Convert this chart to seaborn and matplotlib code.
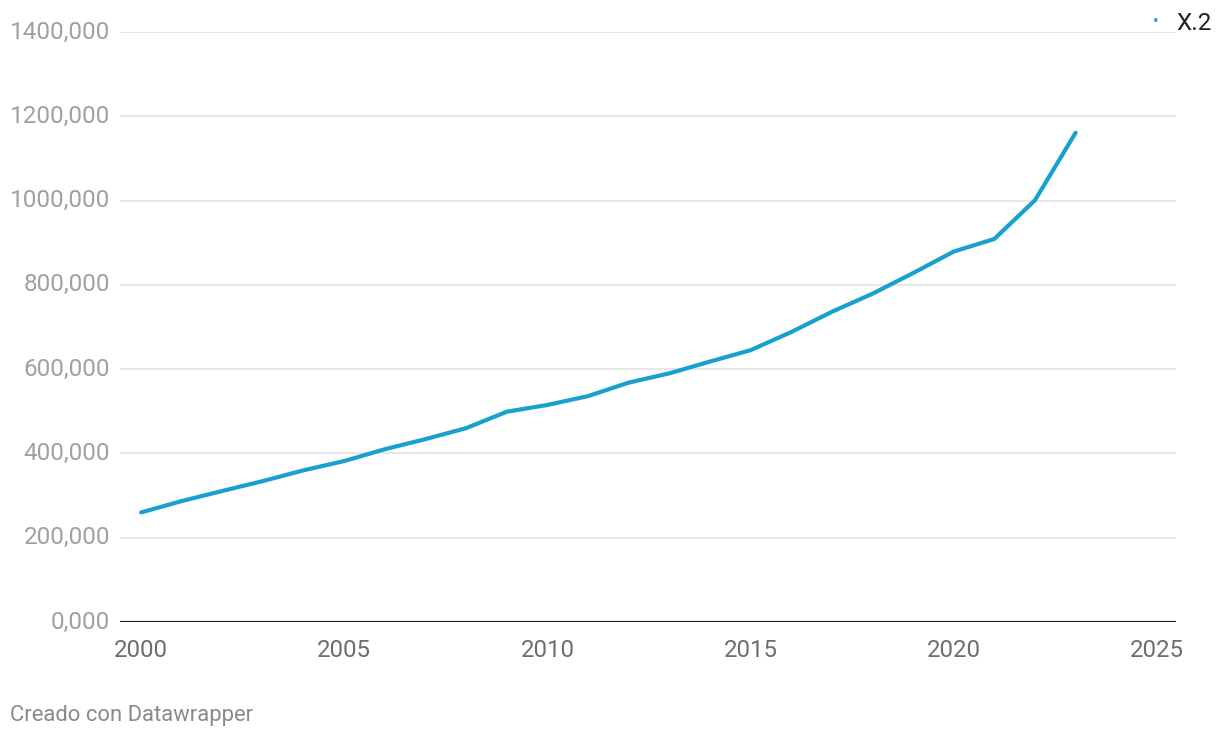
import matplotlib
matplotlib.use("Agg")
import matplotlib.pyplot as plt
import seaborn as sns
import pandas as pd
from matplotlib.ticker import FuncFormatter, FixedLocator

years = list(range(2000, 2024))
values = [260000, 287000, 311000, 334500, 360000, 382000, 410000, 434000,
          460000, 499000, 515000, 536000, 568000, 590000, 618000, 645000,
          688000, 736000, 779000, 828000, 879000, 909000, 1001000, 1161000]
series_name = "X.2"
y_ticks = [0, 200000, 400000, 600000, 800000, 1000000, 1200000, 1400000]
x_ticks = [2000, 2005, 2010, 2015, 2020, 2025]
footer = "Creado con Datawrapper"

df = pd.DataFrame({"year": years, "value": values, "series": series_name})

sns.set_theme(style="white")
plt.rcParams["font.family"] = ["Roboto", "DejaVu Sans"]

fig = plt.figure(figsize=(12.2, 7.38), dpi=100)
ax = fig.add_axes([120 / 1220, 1 - 622 / 738, (1176 - 120) / 1220, (622 - 32) / 738])

line_color = "#18a1cd"
sns.lineplot(data=df, x="year", y="value", ax=ax, color=line_color,
             linewidth=3, legend=False)

ax.set_xlim(1999.48, 2025.47)
ax.set_ylim(0, 1400000)
ax.yaxis.set_major_locator(FixedLocator(y_ticks))
ax.xaxis.set_major_locator(FixedLocator(x_ticks))

def fmt(v, pos):
    v = int(round(v))
    return f"{v // 1000},{v % 1000:03d}"

ax.yaxis.set_major_formatter(FuncFormatter(fmt))
ax.grid(axis="y", color="#e3e3e3", linewidth=1.2)
ax.set_axisbelow(True)
for s in ax.spines.values():
    s.set_visible(False)
ax.axhline(0, color="#222222", linewidth=1.6, zorder=3)

ax.tick_params(axis="y", length=0, pad=7, labelsize=17.5, labelcolor="#a0a0a0")
ax.tick_params(axis="x", length=0, pad=12, labelsize=17.3, labelcolor="#6e6e6e")
for lab in ax.get_yticklabels():
    lab.set_verticalalignment("center")
ax.set_xlabel("")
ax.set_ylabel("")

fig.text(1156 / 1220, 1 - 22 / 738, "\u2022", color=line_color, fontsize=12,
         ha="center", va="center")
fig.text(1176 / 1220, 1 - 23 / 738, series_name, color="#222222", fontsize=17.5,
         ha="left", va="center")
fig.text(10 / 1220, 1 - 715 / 738, footer, color="#8a8a8a", fontsize=15.8,
         ha="left", va="center")

fig.savefig("out.png", dpi=100)
